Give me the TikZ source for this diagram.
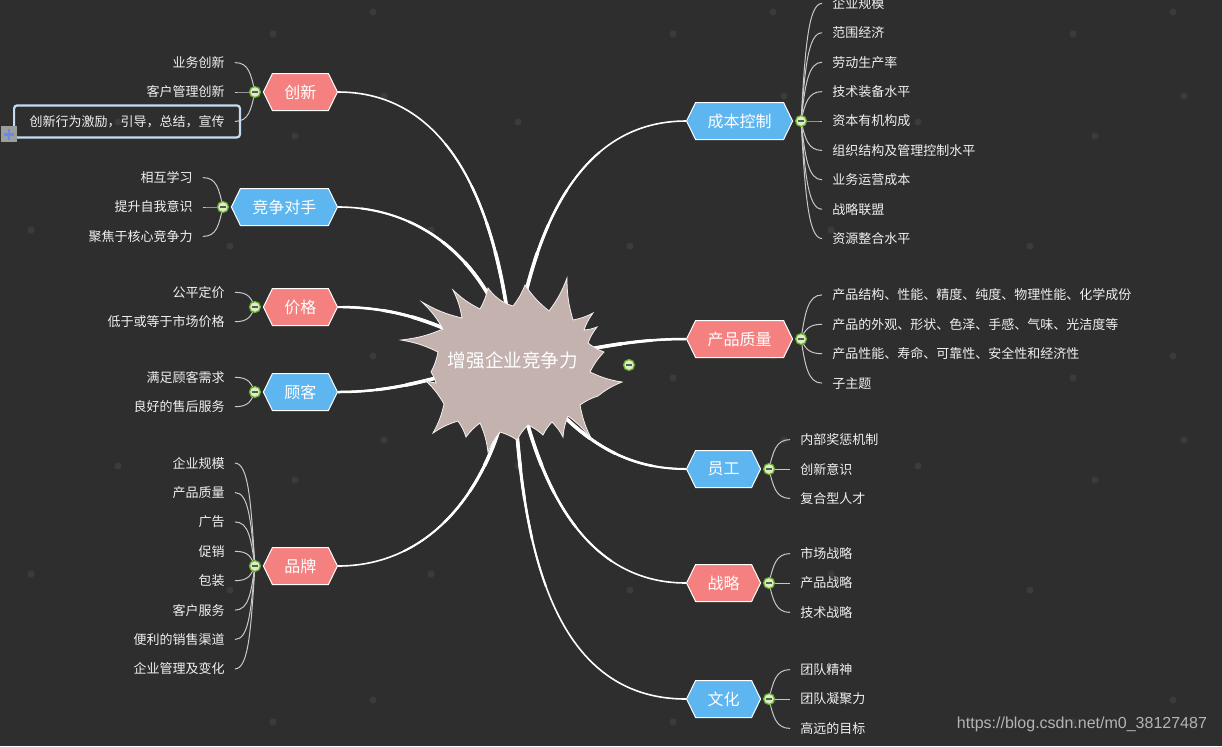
\documentclass[tikz,border=0pt]{standalone}
\usepackage{fontspec}
\setmainfont{Noto Sans CJK SC}
\newfontfamily\urlfont{Liberation Sans}
\usetikzlibrary{shapes.symbols,positioning,calc}

\definecolor{canvas}{HTML}{2E2E2E}
\definecolor{speck}{HTML}{3B3B3B}
\definecolor{burst}{HTML}{C4B2AF}
\definecolor{topicred}{HTML}{F58080}
\definecolor{topicblue}{HTML}{5DB6F0}
\definecolor{foldgreen}{HTML}{6AAE2A}
\definecolor{foldfill}{HTML}{D9F0C2}
\definecolor{twiggrey}{HTML}{C8C8C8}
\definecolor{selblue}{HTML}{C5DBF4}
\definecolor{plusgrey}{HTML}{9B9F9B}
\definecolor{plusblue}{HTML}{6A86F5}
\definecolor{urlgrey}{HTML}{B4B4B4}

\pgfdeclarelayer{grid}
\pgfdeclarelayer{back}
\pgfsetlayers{grid,back,main}

\begin{document}
\begin{tikzpicture}[x=0.5pt,y=-0.5pt,
		topic/.style={signal, signal to=east and west, signal pointer angle=128, draw=white, line width=0.5pt,
				minimum height=18.5pt, inner xsep=6pt, inner ysep=4.5pt, text=white, font=\fontsize{8}{9}\selectfont},
		red topic/.style={topic, fill=topicred},
		blue topic/.style={topic, fill=topicblue},
		fold/.style={circle, draw=foldgreen, line width=0.6pt, fill=foldfill, minimum size=5.5pt, inner sep=0pt,
				path picture={\draw[black!65, line width=0.7pt] ([xshift=-1.6pt]path picture bounding box.center) -- ([xshift=1.6pt]path picture bounding box.center);}},
		leaf/.style={text=white!94!black, font=\fontsize{6.5}{7.5}\selectfont, inner xsep=5pt, inner ysep=1pt},
		twig/.style={draw=twiggrey, line width=0.5pt},
		plusbox/.style={fill=plusgrey, minimum size=8pt, inner sep=0pt,
				path picture={\draw[plusblue, line width=1.2pt]
						([xshift=-2.6pt]path picture bounding box.center) -- ([xshift=2.6pt]path picture bounding box.center)
						([yshift=-2.6pt]path picture bounding box.center) -- ([yshift=2.6pt]path picture bounding box.center);}},
	]
	\path[use as bounding box] (0,0) rectangle (1222,746);
	\begin{pgfonlayer}{grid}
		\fill[canvas] (0,0) rectangle (1222,746);
		\foreach \dx in {0,400,800}
		\foreach \dy in {0,344,688}
		\foreach \px/\py in {373/12,273/34,384/96,118/122,295/136,31/230,230/246}
		\fill[speck] (\px+\dx,\py+\dy) circle (1.8pt);
	\end{pgfonlayer}

	% main topics
	\node[red topic, anchor=east] (cx) at (338,92) {创新};
	\node[blue topic, anchor=east] (jz) at (338,207) {竞争对手};
	\node[red topic, anchor=east] (jg) at (338,307) {价格};
	\node[blue topic, anchor=east] (gk) at (338,392) {顾客};
	\node[red topic, anchor=east] (pp) at (338,566) {品牌};
	\node[blue topic, anchor=west] (cb) at (686,121) {成本控制};
	\node[red topic, anchor=west] (cp) at (686,339) {产品质量};
	\node[blue topic, anchor=west] (yg) at (686,469) {员工};
	\node[red topic, anchor=west] (zl) at (686,583) {战略};
	\node[blue topic, anchor=west] (wh) at (686,699) {文化};

	\foreach \h in {cx,jz,jg,gk,pp}
	\node[fold, left=0.9pt of \h.west] (\h-f) {};
	\foreach \h in {cb,cp,yg,zl,wh}
	\node[fold, right=0.9pt of \h.east] (\h-f) {};

	% leaves, left side
	\foreach \h/\m/\items in {cx/2/{业务创新,客户管理创新,创新行为激励，引导，总结，宣传},
			jz/2/{相互学习,提升自我意识,聚焦于核心竞争力},
			jg/1.5/{公平定价,低于或等于市场价格},
			gk/1.5/{满足顾客需求,良好的售后服务},
			pp/4.5/{企业规模,产品质量,广告,促销,包装,客户服务,便利的销售渠道,企业管理及变化}}{
		\foreach \t [count=\i] in \items {
			\pgfmathsetmacro\yoff{(\i-\m)*29.4}
			\node[leaf, anchor=east] (\h-\i) at ($(\h-f)+(-20,\yoff)$) {\t};
			\begin{pgfonlayer}{back}
				\draw[twig] (\h-f.center) .. controls +(-4,{0.6*\yoff}) and +(14,0) .. (\h-\i.east);
			\end{pgfonlayer}
		}
	}
	% leaves, right side
	\foreach \h/\m/\items in {cb/5/{企业规模,范围经济,劳动生产率,技术装备水平,资本有机构成,组织结构及管理控制水平,业务运营成本,战略联盟,资源整合水平},
			cp/2.5/{产品结构、性能、精度、纯度、物理性能、化学成份,产品的外观、形状、色泽、手感、气味、光洁度等,产品性能、寿命、可靠性、安全性和经济性,子主题},
			yg/2/{内部奖惩机制,创新意识,复合型人才},
			zl/2/{市场战略,产品战略,技术战略},
			wh/2/{团队精神,团队凝聚力,高远的目标}}{
		\foreach \t [count=\i] in \items {
			\pgfmathsetmacro\yoff{(\i-\m)*29.4}
			\node[leaf, anchor=west] (\h-\i) at ($(\h-f)+(21,\yoff)$) {\t};
			\begin{pgfonlayer}{back}
				\draw[twig] (\h-f.center) .. controls +(4,{0.6*\yoff}) and +(-14,0) .. (\h-\i.west);
			\end{pgfonlayer}
		}
	}

	% selected leaf
	\draw[selblue, line width=1.1pt, rounded corners=1.5pt] ($(cx-3.west)+(-5,-16)$) rectangle ($(cx-3.east)+(5,16)$);
	\node[plusbox] (cx-plus) at ($(cx-3.west)+(-10,13)$) {};

	% central topic
	\node[text=white, font=\fontsize{9.3}{10}\selectfont] (core) at (513,360) {增强企业竞争力};
	\begin{pgfonlayer}{back}
		% thick near the centre, thin at the topic
		\foreach \h/\o/\a in {cx/95/0,jz/102/0,jg/155/0,gk/190/0,pp/-95/0,cb/82/180,cp/5/180,yg/-50/180,zl/-80/180,wh/-88/180}
		\foreach \w/\l in {0.8/3000,1.0/115,1.25/90,1.5/70,1.8/55}
		\draw[white, line width=\w pt, dash pattern=on \l pt off 3000pt] (core.center) to[out=\o,in=\a] (\h);
		\fill[burst, draw=white!80!burst, line width=0.4pt, every to/.style={bend left=8}]
		(622,382) to (590,372) to (604,352) to (588,343) to (597,327) to (584,330) to (593,313)
		to (573,320) to (567,278) to (549,311) to (525,285) to (513,306) to (500,300) to (488,288)
		to (480,309) to (453,290) to (462,318) to (422,302) to (443,329) to (401,340) to (438,352)
		to (431,372) to (436,383) to (425,380) to (444,404) to (433,433) to (458,421) to (466,437)
		to (480,423) to (488,452) to (500,432) to (517,440) to (528,425) to (543,435) to (552,422)
		to (563,437) to (568,416) to (592,440) to (580,405) to (598,396) to (622,382) -- cycle;
	\end{pgfonlayer}
	\node[fold] (core-f) at (629,365) {};

	\node[anchor=east, text=urlgrey, font=\urlfont\fontsize{8}{9}\selectfont] (mark) at (1214,724) {https://blog.csdn.net/m0\_38127487};
\end{tikzpicture}
\end{document}
